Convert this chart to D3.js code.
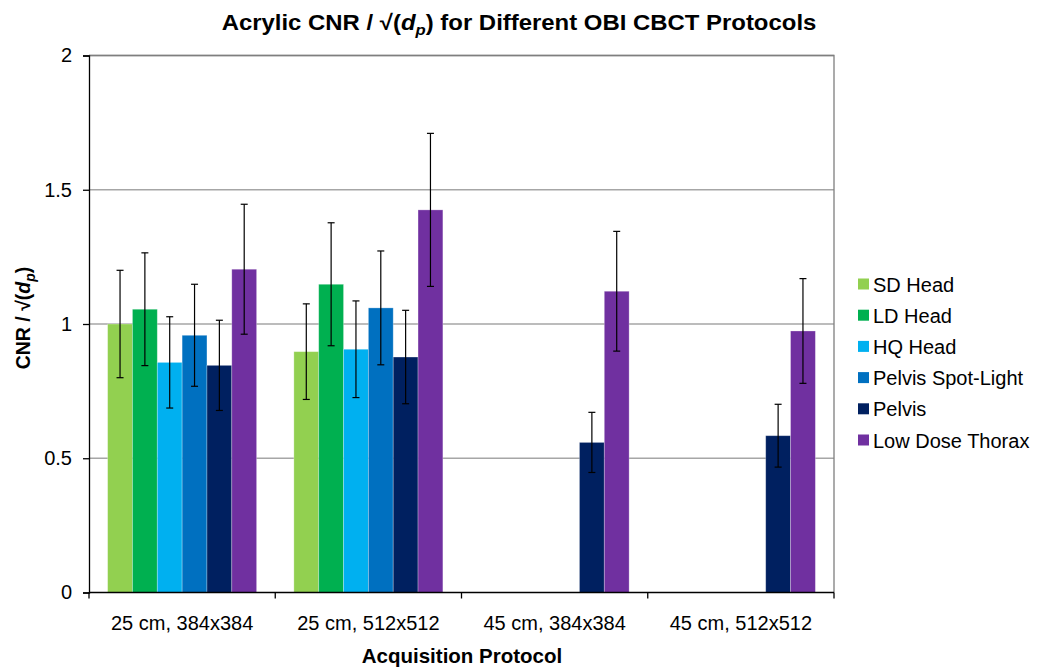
<!DOCTYPE html>
<html>
<head>
<meta charset="utf-8">
<script src="https://cdn.jsdelivr.net/npm/d3@7"></script>
<style>
  html, body { margin: 0; padding: 0; background: #fff; }
  svg { display: block; font-family: "Liberation Sans", Arial, sans-serif; }
</style>
</head>
<body>
<svg id="chart" width="1041" height="668"></svg>
<script>
// Acquisition protocols (x categories)
const categories = ["25 cm, 384x384", "25 cm, 512x512", "45 cm, 384x384", "45 cm, 512x512"];

// Scan protocols (series)
const seriesNames = ["SD Head", "LD Head", "HQ Head", "Pelvis Spot-Light", "Pelvis", "Low Dose Thorax"];
const seriesColors = ["#92D050", "#00B050", "#00B0F0", "#0070C0", "#002060", "#7030A0"];

// CNR / sqrt(dp) per series, one value per category (null = not acquired)
const sdHead      = [1.00, 0.897, null, null];
const ldHead      = [1.055, 1.148, null, null];
const hqHead      = [0.857, 0.906, null, null];
const pelvisSpot  = [0.958, 1.060, null, null];
const pelvis      = [0.846, 0.877, 0.559, 0.584];
const lowDoseTh   = [1.204, 1.425, 1.122, 0.974];

// Error bar half-widths
const sdHeadErr     = [0.20, 0.178, null, null];
const ldHeadErr     = [0.21, 0.229, null, null];
const hqHeadErr     = [0.17, 0.180, null, null];
const pelvisSpotErr = [0.19, 0.212, null, null];
const pelvisErr     = [0.168, 0.174, 0.112, 0.117];
const lowDoseThErr  = [0.242, 0.285, 0.223, 0.195];

const yTicks = [0, 0.5, 1, 1.5, 2];

const seriesValues = [sdHead, ldHead, hqHead, pelvisSpot, pelvis, lowDoseTh];
const seriesErrors = [sdHeadErr, ldHeadErr, hqHeadErr, pelvisSpotErr, pelvisErr, lowDoseThErr];

const svg = d3.select("#chart");
const plot = { left: 89, right: 834, top: 55.5, bottom: 592.5 };

const x = d3.scaleBand().domain(categories).range([plot.left, plot.right]).paddingInner(0).paddingOuter(0);
// six bars per group with a gap of 1.5 bar widths between groups
const barW = x.bandwidth() / 7.5;
const xs = d3.scaleBand().domain(seriesNames)
  .range([barW * 0.75, x.bandwidth() - barW * 0.75]).paddingInner(0).paddingOuter(0);

const y = d3.scaleLinear().domain([0, 2]).range([plot.bottom, plot.top]);

// gridlines
svg.append("g").selectAll("line").data(yTicks.filter(d => d > 0)).join("line")
  .attr("x1", plot.left).attr("x2", plot.right)
  .attr("y1", d => y(d)).attr("y2", d => y(d))
  .attr("stroke", "#A6A6A6").attr("stroke-width", 1.3);

// plot frame (top & right)
svg.append("path")
  .attr("d", `M${plot.left},${plot.top}H${plot.right}V${plot.bottom}`)
  .attr("fill", "none").attr("stroke", "#7F7F7F").attr("stroke-width", 1.3);

// bars
const rows = [];
seriesNames.forEach((s, i) => {
  categories.forEach((c, j) => {
    const v = seriesValues[i][j];
    if (v != null) rows.push({ s, c, v, e: seriesErrors[i][j], color: seriesColors[i] });
  });
});

svg.append("g").selectAll("rect").data(rows).join("rect")
  .attr("x", d => x(d.c) + xs(d.s))
  .attr("width", xs.bandwidth())
  .attr("y", d => y(d.v))
  .attr("height", d => y(0) - y(d.v))
  .attr("fill", d => d.color)
  .attr("stroke", "rgba(255,255,255,0.35)")
  .attr("stroke-width", 0.8);

// error bars
const eb = svg.append("g").attr("stroke", "#000").attr("stroke-width", 1.2);
rows.forEach(d => {
  const cx = x(d.c) + xs(d.s) + xs.bandwidth() / 2;
  const y1 = y(d.v + d.e), y2 = y(d.v - d.e);
  eb.append("line").attr("x1", cx).attr("x2", cx).attr("y1", y1).attr("y2", y2);
  eb.append("line").attr("x1", cx - 3.5).attr("x2", cx + 3.5).attr("y1", y1).attr("y2", y1);
  eb.append("line").attr("x1", cx - 3.5).attr("x2", cx + 3.5).attr("y1", y2).attr("y2", y2);
});

// y axis
const yAxis = d3.axisLeft(y).tickValues(yTicks).tickFormat(d3.format("")).tickSize(6).tickPadding(11);
const gy = svg.append("g").attr("transform", `translate(${plot.left},0)`).call(yAxis);
gy.select(".domain").attr("stroke", "#000").attr("stroke-width", 1.3);
gy.selectAll(".tick line").attr("stroke", "#000").attr("stroke-width", 1.3);
gy.selectAll(".tick text").attr("font-size", 20).attr("fill", "#000")
  .attr("font-family", "Liberation Sans, Arial, sans-serif");

// x axis: ticks at category boundaries
const gx = svg.append("g");
gx.append("line").attr("x1", plot.left).attr("x2", plot.right)
  .attr("y1", plot.bottom).attr("y2", plot.bottom).attr("stroke", "#000").attr("stroke-width", 1.3);
const bounds = categories.map(c => x(c)).concat([plot.right]);
gx.selectAll("line.tk").data(bounds).join("line").attr("class", "tk")
  .attr("x1", d => d).attr("x2", d => d)
  .attr("y1", plot.bottom).attr("y2", plot.bottom + 6)
  .attr("stroke", "#000").attr("stroke-width", 1.3);
gx.selectAll("text").data(categories).join("text")
  .attr("x", d => x(d) + x.bandwidth() / 2)
  .attr("y", 630)
  .attr("text-anchor", "middle")
  .attr("font-size", 20)
  .text(d => d);

// title, widened horizontally to the chart's span
const titleG = svg.append("g").attr("transform", "translate(519,30)");
const title = titleG.append("text").attr("x", 0).attr("y", 0)
  .attr("text-anchor", "middle").attr("font-size", 21.5).attr("font-weight", "bold");
title.append("tspan").text("Acrylic CNR / \u221A(");
title.append("tspan").attr("font-style", "italic").text("d");
title.append("tspan").attr("font-style", "italic").attr("font-size", 15).attr("dy", 5).text("p");
title.append("tspan").attr("dy", -5).text(") for Different  OBI CBCT Protocols");
const tw = title.node().getBBox().width;
title.attr("transform", `scale(${595 / tw},1)`);

// axis titles
svg.append("text").attr("x", 462).attr("y", 663).attr("text-anchor", "middle")
  .attr("font-size", 20.5).attr("font-weight", "bold").text("Acquisition Protocol");

const yt = svg.append("text").attr("transform", "translate(30,318) rotate(-90)")
  .attr("text-anchor", "middle").attr("font-size", 19.5).attr("font-weight", "bold");
yt.append("tspan").text("CNR / \u221A(");
yt.append("tspan").attr("font-style", "italic").text("d");
yt.append("tspan").attr("font-style", "italic").attr("font-size", 14).attr("dy", 5).text("p");
yt.append("tspan").attr("dy", -5).text(")");

// legend
const lg = svg.append("g").attr("transform", "translate(858,284)");
const li = lg.selectAll("g").data(seriesNames).join("g")
  .attr("transform", (d, i) => `translate(0,${i * 31.2})`);
li.append("rect").attr("x", 0).attr("y", -5.5).attr("width", 11).attr("height", 11)
  .attr("fill", (d, i) => seriesColors[i]);
li.append("text").attr("x", 15).attr("y", 7.5).attr("font-size", 20).text(d => d);
</script>
</body>
</html>
